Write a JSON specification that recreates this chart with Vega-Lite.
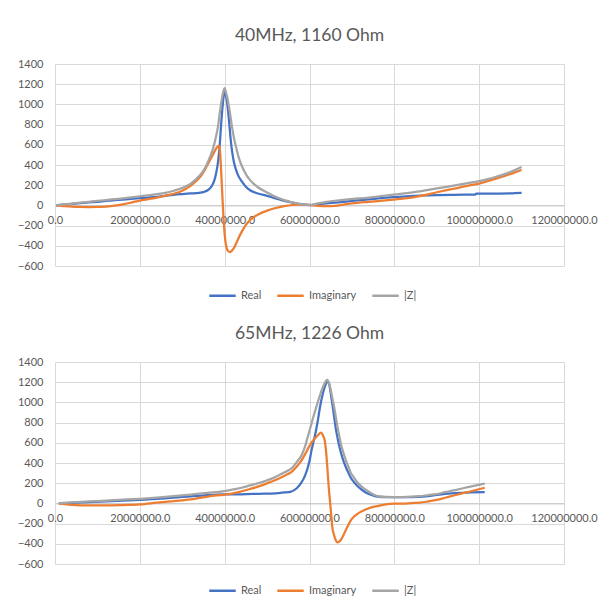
{
  "$schema": "https://vega.github.io/schema/vega-lite/v6.json",
  "background": "white",
  "padding": {"left": 17, "top": 26, "right": 5, "bottom": 5},
  "config": {
    "font": "Lato",
    "view": {"stroke": null},
    "title": {"font": "Lato", "fontSize": 17.5, "fontWeight": "normal", "color": "#595959", "offset": 14, "anchor": "middle"},
    "axis": {"labelFont": "Lato", "labelFontSize": 11, "labelColor": "#595959", "gridColor": "#d9d9d9", "gridWidth": 1, "ticks": false, "title": null},
    "legend": {"labelFont": "Lato", "labelFontSize": 11, "labelColor": "#595959"}
  },
  "datasets": {
    "top": [
      {"series":"Real","freq":300000,"ohm":0},{"series":"Real","freq":2000000,"ohm":8},{"series":"Real","freq":4000000,"ohm":15},{"series":"Real","freq":6000000,"ohm":22},{"series":"Real","freq":8000000,"ohm":29},{"series":"Real","freq":10000000,"ohm":36},{"series":"Real","freq":12000000,"ohm":44},{"series":"Real","freq":14000000,"ohm":51},{"series":"Real","freq":16000000,"ohm":58},{"series":"Real","freq":18000000,"ohm":65},{"series":"Real","freq":20000000,"ohm":72},{"series":"Real","freq":22000000,"ohm":78},{"series":"Real","freq":24000000,"ohm":85},{"series":"Real","freq":26000000,"ohm":95},{"series":"Real","freq":28000000,"ohm":105},{"series":"Real","freq":30000000,"ohm":112},{"series":"Real","freq":32000000,"ohm":118},{"series":"Real","freq":34000000,"ohm":125},{"series":"Real","freq":35000000,"ohm":132},{"series":"Real","freq":36000000,"ohm":150},{"series":"Real","freq":36500000,"ohm":168},{"series":"Real","freq":37000000,"ohm":195},{"series":"Real","freq":37500000,"ohm":240},{"series":"Real","freq":38000000,"ohm":320},{"series":"Real","freq":38500000,"ohm":450},{"series":"Real","freq":38800000,"ohm":580},{"series":"Real","freq":39100000,"ohm":760},{"series":"Real","freq":39400000,"ohm":930},{"series":"Real","freq":39700000,"ohm":1060},{"series":"Real","freq":40000000,"ohm":1130},{"series":"Real","freq":40300000,"ohm":1090},{"series":"Real","freq":40600000,"ohm":1010},{"series":"Real","freq":41000000,"ohm":850},{"series":"Real","freq":41400000,"ohm":660},{"series":"Real","freq":41800000,"ohm":520},{"series":"Real","freq":42200000,"ohm":425},{"series":"Real","freq":42700000,"ohm":350},{"series":"Real","freq":43200000,"ohm":295},{"series":"Real","freq":44000000,"ohm":240},{"series":"Real","freq":45000000,"ohm":185},{"series":"Real","freq":46000000,"ohm":150},{"series":"Real","freq":47000000,"ohm":130},{"series":"Real","freq":48000000,"ohm":115},{"series":"Real","freq":50000000,"ohm":95},{"series":"Real","freq":52000000,"ohm":68},{"series":"Real","freq":54000000,"ohm":45},{"series":"Real","freq":56000000,"ohm":28},{"series":"Real","freq":58000000,"ohm":12},{"series":"Real","freq":60000000,"ohm":3},{"series":"Real","freq":62000000,"ohm":12},{"series":"Real","freq":64000000,"ohm":20},{"series":"Real","freq":66000000,"ohm":28},{"series":"Real","freq":68000000,"ohm":36},{"series":"Real","freq":70000000,"ohm":44},{"series":"Real","freq":74000000,"ohm":60},{"series":"Real","freq":78000000,"ohm":76},{"series":"Real","freq":82000000,"ohm":88},{"series":"Real","freq":86000000,"ohm":96},{"series":"Real","freq":90000000,"ohm":102},{"series":"Real","freq":94000000,"ohm":105},{"series":"Real","freq":99000000,"ohm":106},{"series":"Real","freq":99300000,"ohm":116},{"series":"Real","freq":104000000,"ohm":117},{"series":"Real","freq":108000000,"ohm":119},{"series":"Real","freq":108300000,"ohm":122},{"series":"Real","freq":110000000,"ohm":123},
      {"series":"Imaginary","freq":300000,"ohm":0},{"series":"Imaginary","freq":2000000,"ohm":-6},{"series":"Imaginary","freq":4000000,"ohm":-12},{"series":"Imaginary","freq":6000000,"ohm":-15},{"series":"Imaginary","freq":8000000,"ohm":-16},{"series":"Imaginary","freq":10000000,"ohm":-15},{"series":"Imaginary","freq":12000000,"ohm":-11},{"series":"Imaginary","freq":14000000,"ohm":-3},{"series":"Imaginary","freq":16000000,"ohm":10},{"series":"Imaginary","freq":18000000,"ohm":28},{"series":"Imaginary","freq":20000000,"ohm":48},{"series":"Imaginary","freq":22000000,"ohm":63},{"series":"Imaginary","freq":24000000,"ohm":78},{"series":"Imaginary","freq":26000000,"ohm":96},{"series":"Imaginary","freq":28000000,"ohm":115},{"series":"Imaginary","freq":30000000,"ohm":145},{"series":"Imaginary","freq":31000000,"ohm":168},{"series":"Imaginary","freq":32000000,"ohm":195},{"series":"Imaginary","freq":33000000,"ohm":232},{"series":"Imaginary","freq":34000000,"ohm":270},{"series":"Imaginary","freq":35000000,"ohm":330},{"series":"Imaginary","freq":35500000,"ohm":365},{"series":"Imaginary","freq":36000000,"ohm":405},{"series":"Imaginary","freq":36500000,"ohm":445},{"series":"Imaginary","freq":37000000,"ohm":485},{"series":"Imaginary","freq":37500000,"ohm":525},{"series":"Imaginary","freq":38000000,"ohm":565},{"series":"Imaginary","freq":38400000,"ohm":585},{"series":"Imaginary","freq":38700000,"ohm":592},{"series":"Imaginary","freq":38900000,"ohm":540},{"series":"Imaginary","freq":39100000,"ohm":400},{"series":"Imaginary","freq":39300000,"ohm":230},{"series":"Imaginary","freq":39500000,"ohm":60},{"series":"Imaginary","freq":39700000,"ohm":-100},{"series":"Imaginary","freq":39900000,"ohm":-230},{"series":"Imaginary","freq":40200000,"ohm":-365},{"series":"Imaginary","freq":40500000,"ohm":-425},{"series":"Imaginary","freq":40800000,"ohm":-451},{"series":"Imaginary","freq":41300000,"ohm":-462},{"series":"Imaginary","freq":41700000,"ohm":-448},{"series":"Imaginary","freq":42200000,"ohm":-420},{"series":"Imaginary","freq":42700000,"ohm":-378},{"series":"Imaginary","freq":43200000,"ohm":-330},{"series":"Imaginary","freq":44000000,"ohm":-262},{"series":"Imaginary","freq":45000000,"ohm":-192},{"series":"Imaginary","freq":46000000,"ohm":-145},{"series":"Imaginary","freq":47000000,"ohm":-112},{"series":"Imaginary","freq":48000000,"ohm":-87},{"series":"Imaginary","freq":50000000,"ohm":-52},{"series":"Imaginary","freq":52000000,"ohm":-26},{"series":"Imaginary","freq":54000000,"ohm":-8},{"series":"Imaginary","freq":56000000,"ohm":4},{"series":"Imaginary","freq":58000000,"ohm":8},{"series":"Imaginary","freq":60000000,"ohm":5},{"series":"Imaginary","freq":62000000,"ohm":-4},{"series":"Imaginary","freq":64000000,"ohm":-8},{"series":"Imaginary","freq":66000000,"ohm":-4},{"series":"Imaginary","freq":68000000,"ohm":8},{"series":"Imaginary","freq":70000000,"ohm":20},{"series":"Imaginary","freq":74000000,"ohm":36},{"series":"Imaginary","freq":78000000,"ohm":50},{"series":"Imaginary","freq":82000000,"ohm":66},{"series":"Imaginary","freq":86000000,"ohm":92},{"series":"Imaginary","freq":90000000,"ohm":130},{"series":"Imaginary","freq":94000000,"ohm":165},{"series":"Imaginary","freq":98000000,"ohm":200},{"series":"Imaginary","freq":100000000,"ohm":216},{"series":"Imaginary","freq":102000000,"ohm":240},{"series":"Imaginary","freq":104000000,"ohm":265},{"series":"Imaginary","freq":106000000,"ohm":292},{"series":"Imaginary","freq":108000000,"ohm":320},{"series":"Imaginary","freq":110000000,"ohm":350},
      {"series":"|Z|","freq":300000,"ohm":0},{"series":"|Z|","freq":2000000,"ohm":9},{"series":"|Z|","freq":4000000,"ohm":18},{"series":"|Z|","freq":6000000,"ohm":27},{"series":"|Z|","freq":8000000,"ohm":36},{"series":"|Z|","freq":10000000,"ohm":45},{"series":"|Z|","freq":12000000,"ohm":53},{"series":"|Z|","freq":14000000,"ohm":62},{"series":"|Z|","freq":16000000,"ohm":70},{"series":"|Z|","freq":18000000,"ohm":80},{"series":"|Z|","freq":20000000,"ohm":90},{"series":"|Z|","freq":22000000,"ohm":100},{"series":"|Z|","freq":24000000,"ohm":111},{"series":"|Z|","freq":26000000,"ohm":124},{"series":"|Z|","freq":28000000,"ohm":145},{"series":"|Z|","freq":30000000,"ohm":172},{"series":"|Z|","freq":31000000,"ohm":192},{"series":"|Z|","freq":32000000,"ohm":216},{"series":"|Z|","freq":33000000,"ohm":250},{"series":"|Z|","freq":34000000,"ohm":290},{"series":"|Z|","freq":35000000,"ohm":345},{"series":"|Z|","freq":35500000,"ohm":380},{"series":"|Z|","freq":36000000,"ohm":425},{"series":"|Z|","freq":36500000,"ohm":475},{"series":"|Z|","freq":37000000,"ohm":530},{"series":"|Z|","freq":37500000,"ohm":600},{"series":"|Z|","freq":38000000,"ohm":690},{"series":"|Z|","freq":38500000,"ohm":800},{"series":"|Z|","freq":38800000,"ohm":900},{"series":"|Z|","freq":39100000,"ohm":990},{"series":"|Z|","freq":39400000,"ohm":1070},{"series":"|Z|","freq":39700000,"ohm":1130},{"series":"|Z|","freq":40000000,"ohm":1160},{"series":"|Z|","freq":40300000,"ohm":1120},{"series":"|Z|","freq":40600000,"ohm":1070},{"series":"|Z|","freq":41000000,"ohm":980},{"series":"|Z|","freq":41400000,"ohm":870},{"series":"|Z|","freq":41800000,"ohm":760},{"series":"|Z|","freq":42200000,"ohm":665},{"series":"|Z|","freq":42700000,"ohm":575},{"series":"|Z|","freq":43200000,"ohm":490},{"series":"|Z|","freq":44000000,"ohm":395},{"series":"|Z|","freq":45000000,"ohm":310},{"series":"|Z|","freq":46000000,"ohm":250},{"series":"|Z|","freq":47000000,"ohm":208},{"series":"|Z|","freq":48000000,"ohm":175},{"series":"|Z|","freq":50000000,"ohm":128},{"series":"|Z|","freq":52000000,"ohm":85},{"series":"|Z|","freq":54000000,"ohm":52},{"series":"|Z|","freq":56000000,"ohm":30},{"series":"|Z|","freq":58000000,"ohm":12},{"series":"|Z|","freq":60000000,"ohm":4},{"series":"|Z|","freq":62000000,"ohm":20},{"series":"|Z|","freq":64000000,"ohm":36},{"series":"|Z|","freq":66000000,"ohm":46},{"series":"|Z|","freq":68000000,"ohm":55},{"series":"|Z|","freq":70000000,"ohm":63},{"series":"|Z|","freq":74000000,"ohm":78},{"series":"|Z|","freq":78000000,"ohm":98},{"series":"|Z|","freq":82000000,"ohm":117},{"series":"|Z|","freq":86000000,"ohm":138},{"series":"|Z|","freq":90000000,"ohm":168},{"series":"|Z|","freq":94000000,"ohm":196},{"series":"|Z|","freq":98000000,"ohm":226},{"series":"|Z|","freq":100000000,"ohm":240},{"series":"|Z|","freq":102000000,"ohm":260},{"series":"|Z|","freq":104000000,"ohm":284},{"series":"|Z|","freq":106000000,"ohm":310},{"series":"|Z|","freq":108000000,"ohm":342},{"series":"|Z|","freq":110000000,"ohm":380}
    ],
    "bottom": [
      {"series":"Real","freq":900000,"ohm":0},{"series":"Real","freq":4000000,"ohm":5},{"series":"Real","freq":8000000,"ohm":12},{"series":"Real","freq":12000000,"ohm":20},{"series":"Real","freq":16000000,"ohm":28},{"series":"Real","freq":20000000,"ohm":35},{"series":"Real","freq":24000000,"ohm":45},{"series":"Real","freq":28000000,"ohm":56},{"series":"Real","freq":32000000,"ohm":70},{"series":"Real","freq":36000000,"ohm":82},{"series":"Real","freq":40000000,"ohm":89},{"series":"Real","freq":44000000,"ohm":90},{"series":"Real","freq":48000000,"ohm":95},{"series":"Real","freq":52000000,"ohm":100},{"series":"Real","freq":54000000,"ohm":108},{"series":"Real","freq":55500000,"ohm":115},{"series":"Real","freq":57000000,"ohm":150},{"series":"Real","freq":58000000,"ohm":200},{"series":"Real","freq":59000000,"ohm":280},{"series":"Real","freq":60000000,"ohm":420},{"series":"Real","freq":60500000,"ohm":530},{"series":"Real","freq":61000000,"ohm":620},{"series":"Real","freq":61500000,"ohm":714},{"series":"Real","freq":62000000,"ohm":830},{"series":"Real","freq":62500000,"ohm":960},{"series":"Real","freq":63000000,"ohm":1060},{"series":"Real","freq":63500000,"ohm":1140},{"series":"Real","freq":64000000,"ohm":1195},{"series":"Real","freq":64300000,"ohm":1211},{"series":"Real","freq":64700000,"ohm":1170},{"series":"Real","freq":65000000,"ohm":1090},{"series":"Real","freq":65400000,"ohm":980},{"series":"Real","freq":65800000,"ohm":860},{"series":"Real","freq":66200000,"ohm":740},{"series":"Real","freq":66600000,"ohm":650},{"series":"Real","freq":67000000,"ohm":570},{"series":"Real","freq":67400000,"ohm":505},{"series":"Real","freq":68000000,"ohm":420},{"series":"Real","freq":68600000,"ohm":355},{"series":"Real","freq":69200000,"ohm":300},{"series":"Real","freq":69700000,"ohm":257},{"series":"Real","freq":70500000,"ohm":210},{"series":"Real","freq":71300000,"ohm":173},{"series":"Real","freq":72500000,"ohm":130},{"series":"Real","freq":73700000,"ohm":97},{"series":"Real","freq":75000000,"ohm":78},{"series":"Real","freq":76000000,"ohm":67},{"series":"Real","freq":78000000,"ohm":62},{"series":"Real","freq":80000000,"ohm":62},{"series":"Real","freq":84000000,"ohm":63},{"series":"Real","freq":88000000,"ohm":72},{"series":"Real","freq":92000000,"ohm":95},{"series":"Real","freq":96000000,"ohm":105},{"series":"Real","freq":98000000,"ohm":108},{"series":"Real","freq":101300000,"ohm":112},
      {"series":"Imaginary","freq":900000,"ohm":0},{"series":"Imaginary","freq":4000000,"ohm":-14},{"series":"Imaginary","freq":8000000,"ohm":-20},{"series":"Imaginary","freq":12000000,"ohm":-20},{"series":"Imaginary","freq":16000000,"ohm":-16},{"series":"Imaginary","freq":20000000,"ohm":-10},{"series":"Imaginary","freq":24000000,"ohm":7},{"series":"Imaginary","freq":28000000,"ohm":23},{"series":"Imaginary","freq":32000000,"ohm":40},{"series":"Imaginary","freq":36000000,"ohm":68},{"series":"Imaginary","freq":40000000,"ohm":88},{"series":"Imaginary","freq":42000000,"ohm":100},{"series":"Imaginary","freq":44000000,"ohm":120},{"series":"Imaginary","freq":46000000,"ohm":143},{"series":"Imaginary","freq":48000000,"ohm":168},{"series":"Imaginary","freq":50000000,"ohm":198},{"series":"Imaginary","freq":52000000,"ohm":232},{"series":"Imaginary","freq":54000000,"ohm":272},{"series":"Imaginary","freq":56000000,"ohm":320},{"series":"Imaginary","freq":57000000,"ohm":365},{"series":"Imaginary","freq":58000000,"ohm":418},{"series":"Imaginary","freq":59000000,"ohm":490},{"series":"Imaginary","freq":60000000,"ohm":570},{"series":"Imaginary","freq":61000000,"ohm":630},{"series":"Imaginary","freq":62000000,"ohm":675},{"series":"Imaginary","freq":62700000,"ohm":700},{"series":"Imaginary","freq":63200000,"ohm":670},{"series":"Imaginary","freq":63600000,"ohm":620},{"series":"Imaginary","freq":64000000,"ohm":470},{"series":"Imaginary","freq":64200000,"ohm":357},{"series":"Imaginary","freq":64500000,"ohm":180},{"series":"Imaginary","freq":64900000,"ohm":-10},{"series":"Imaginary","freq":65200000,"ohm":-150},{"series":"Imaginary","freq":65400000,"ohm":-243},{"series":"Imaginary","freq":65700000,"ohm":-300},{"series":"Imaginary","freq":66000000,"ohm":-343},{"series":"Imaginary","freq":66300000,"ohm":-375},{"series":"Imaginary","freq":66600000,"ohm":-385},{"series":"Imaginary","freq":67000000,"ohm":-378},{"series":"Imaginary","freq":67400000,"ohm":-360},{"series":"Imaginary","freq":68000000,"ohm":-315},{"series":"Imaginary","freq":68600000,"ohm":-260},{"series":"Imaginary","freq":69200000,"ohm":-210},{"series":"Imaginary","freq":69700000,"ohm":-170},{"series":"Imaginary","freq":70500000,"ohm":-130},{"series":"Imaginary","freq":71300000,"ohm":-103},{"series":"Imaginary","freq":72500000,"ohm":-75},{"series":"Imaginary","freq":73700000,"ohm":-53},{"series":"Imaginary","freq":75000000,"ohm":-35},{"series":"Imaginary","freq":76000000,"ohm":-27},{"series":"Imaginary","freq":78000000,"ohm":-10},{"series":"Imaginary","freq":80000000,"ohm":-3},{"series":"Imaginary","freq":82000000,"ohm":-2},{"series":"Imaginary","freq":84000000,"ohm":3},{"series":"Imaginary","freq":86000000,"ohm":7},{"series":"Imaginary","freq":88000000,"ohm":20},{"series":"Imaginary","freq":90000000,"ohm":35},{"series":"Imaginary","freq":92000000,"ohm":56},{"series":"Imaginary","freq":94000000,"ohm":78},{"series":"Imaginary","freq":96700000,"ohm":106},{"series":"Imaginary","freq":99000000,"ohm":130},{"series":"Imaginary","freq":101300000,"ohm":155},
      {"series":"|Z|","freq":900000,"ohm":2},{"series":"|Z|","freq":4000000,"ohm":10},{"series":"|Z|","freq":8000000,"ohm":19},{"series":"|Z|","freq":12000000,"ohm":28},{"series":"|Z|","freq":16000000,"ohm":37},{"series":"|Z|","freq":20000000,"ohm":46},{"series":"|Z|","freq":24000000,"ohm":58},{"series":"|Z|","freq":28000000,"ohm":72},{"series":"|Z|","freq":32000000,"ohm":88},{"series":"|Z|","freq":36000000,"ohm":104},{"series":"|Z|","freq":40000000,"ohm":122},{"series":"|Z|","freq":42000000,"ohm":138},{"series":"|Z|","freq":44000000,"ohm":155},{"series":"|Z|","freq":46000000,"ohm":178},{"series":"|Z|","freq":48000000,"ohm":200},{"series":"|Z|","freq":50000000,"ohm":228},{"series":"|Z|","freq":52000000,"ohm":262},{"series":"|Z|","freq":54000000,"ohm":305},{"series":"|Z|","freq":56000000,"ohm":355},{"series":"|Z|","freq":57000000,"ohm":410},{"series":"|Z|","freq":58000000,"ohm":467},{"series":"|Z|","freq":59000000,"ohm":570},{"series":"|Z|","freq":59500000,"ohm":645},{"series":"|Z|","freq":60000000,"ohm":720},{"series":"|Z|","freq":60500000,"ohm":795},{"series":"|Z|","freq":61000000,"ohm":870},{"series":"|Z|","freq":61500000,"ohm":940},{"series":"|Z|","freq":62000000,"ohm":1010},{"series":"|Z|","freq":62500000,"ohm":1075},{"series":"|Z|","freq":63000000,"ohm":1135},{"series":"|Z|","freq":63500000,"ohm":1185},{"series":"|Z|","freq":64200000,"ohm":1223},{"series":"|Z|","freq":64600000,"ohm":1190},{"series":"|Z|","freq":65000000,"ohm":1123},{"series":"|Z|","freq":65400000,"ohm":1040},{"series":"|Z|","freq":65800000,"ohm":957},{"series":"|Z|","freq":66200000,"ohm":857},{"series":"|Z|","freq":66600000,"ohm":757},{"series":"|Z|","freq":67000000,"ohm":670},{"series":"|Z|","freq":67400000,"ohm":590},{"series":"|Z|","freq":68000000,"ohm":500},{"series":"|Z|","freq":68600000,"ohm":423},{"series":"|Z|","freq":69200000,"ohm":360},{"series":"|Z|","freq":69700000,"ohm":307},{"series":"|Z|","freq":70500000,"ohm":255},{"series":"|Z|","freq":71300000,"ohm":207},{"series":"|Z|","freq":72500000,"ohm":160},{"series":"|Z|","freq":73700000,"ohm":123},{"series":"|Z|","freq":75000000,"ohm":90},{"series":"|Z|","freq":76000000,"ohm":73},{"series":"|Z|","freq":78000000,"ohm":64},{"series":"|Z|","freq":80000000,"ohm":63},{"series":"|Z|","freq":82000000,"ohm":63},{"series":"|Z|","freq":84000000,"ohm":66},{"series":"|Z|","freq":86000000,"ohm":72},{"series":"|Z|","freq":88000000,"ohm":83},{"series":"|Z|","freq":90000000,"ohm":92},{"series":"|Z|","freq":92000000,"ohm":112},{"series":"|Z|","freq":94000000,"ohm":128},{"series":"|Z|","freq":96700000,"ohm":155},{"series":"|Z|","freq":99000000,"ohm":175},{"series":"|Z|","freq":101300000,"ohm":195}
    ]
  },
  "bounds": "flush",
  "spacing": 96,
  "resolve": {"legend": {"color": "independent"}, "scale": {"color": "independent"}},
  "vconcat": [
    {
      "title": {"text": "40MHz, 1160 Ohm"},
      "width": 509,
      "height": 202,
      "data": {"name": "top"},
      "mark": {"type": "line", "strokeWidth": 2.25, "interpolate": "monotone"},
      "encoding": {
        "x": {"field": "freq", "type": "quantitative", "scale": {"domain": [0, 120000000], "nice": false, "zero": false},
              "axis": {"values": [0, 20000000, 40000000, 60000000, 80000000, 100000000, 120000000], "format": ".1f", "offset": -60.6, "labelPadding": 9, "labelFlush": false, "labelOverlap": false, "domain": true, "domainColor": "#c8c8c8", "grid": true}},
        "y": {"field": "ohm", "type": "quantitative", "scale": {"domain": [-600, 1400], "nice": false},
              "axis": {"values": [-600, -400, -200, 0, 200, 400, 600, 800, 1000, 1200, 1400], "format": "d", "labelPadding": 12, "domain": false, "grid": true}},
        "color": {"field": "series", "type": "nominal", "sort": null,
                  "scale": {"domain": ["Real", "Imaginary", "|Z|"], "range": ["#4472C4", "#ED7D31", "#A5A5A5"]},
                  "legend": {"title": null, "orient": "none", "legendX": 153, "legendY": 217, "direction": "horizontal", "symbolType": "stroke", "symbolSize": 700, "symbolStrokeWidth": 2.5, "labelOffset": 4, "columnPadding": 10, "padding": 0}}
      }
    },
    {
      "title": {"text": "65MHz, 1226 Ohm"},
      "width": 509,
      "height": 202,
      "data": {"name": "bottom"},
      "mark": {"type": "line", "strokeWidth": 2.25, "interpolate": "monotone"},
      "encoding": {
        "x": {"field": "freq", "type": "quantitative", "scale": {"domain": [0, 120000000], "nice": false, "zero": false},
              "axis": {"values": [0, 20000000, 40000000, 60000000, 80000000, 100000000, 120000000], "format": ".1f", "offset": -60.6, "labelPadding": 9, "labelFlush": false, "labelOverlap": false, "domain": true, "domainColor": "#c8c8c8", "grid": true}},
        "y": {"field": "ohm", "type": "quantitative", "scale": {"domain": [-600, 1400], "nice": false},
              "axis": {"values": [-600, -400, -200, 0, 200, 400, 600, 800, 1000, 1200, 1400], "format": "d", "labelPadding": 12, "domain": false, "grid": true}},
        "color": {"field": "series", "type": "nominal", "sort": null,
                  "scale": {"domain": ["Real", "Imaginary", "|Z|"], "range": ["#4472C4", "#ED7D31", "#A5A5A5"]},
                  "legend": {"title": null, "orient": "none", "legendX": 153, "legendY": 214, "direction": "horizontal", "symbolType": "stroke", "symbolSize": 700, "symbolStrokeWidth": 2.5, "labelOffset": 4, "columnPadding": 10, "padding": 0}}
      }
    }
  ]
}
